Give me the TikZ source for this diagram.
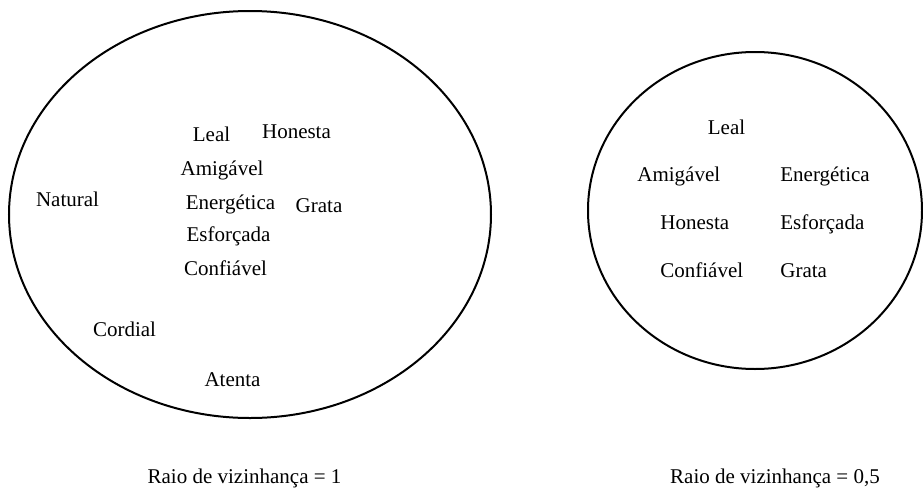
\documentclass[tikz,border=0pt]{standalone}
\usepackage{fontspec}
\setmainfont{Liberation Serif}
\usepackage{tikz}
\usetikzlibrary{positioning}

\begin{document}
\begin{tikzpicture}[
        x=0.5pt, y=-0.5pt, % one unit = one pixel of the reference
        region/.style={draw, line width=1pt},
        word/.style={font=\fontsize{10.5}{12}\selectfont, inner sep=0pt, anchor=base},
        wordl/.style={word, anchor=base west}
      ]
        \useasboundingbox (0,0) rectangle (923,488);

        % Neighbourhood regions
        \draw[region] (250,214.5) ellipse [x radius=120.5pt, y radius=101.75pt];
        \draw[region] (755,210.5) ellipse [x radius=83.5pt, y radius=79.25pt];

        % Radius 1
        \node[word] (leal_a) at (211.5,141.5) {Leal};
        \node[word] (honesta_a) at (296.5,138.5) {Honesta};
        \node[word] (amigavel_a) at (222,175) {Amigável};
        \node[word] (natural_a) at (67.5,206) {Natural};
        \node[word] (energetica_a) at (230.5,209) {Energética};
        \node[word] (grata_a) at (319,212.5) {Grata};
        \node[word] (esforcada_a) at (228.5,241) {Esforçada};
        \node[word] (confiavel_a) at (225.5,275.5) {Confiável};
        \node[word] (cordial_a) at (124.5,336.5) {Cordial};
        \node[word] (atenta_a) at (232.5,386) {Atenta};

        % Radius 0,5
        \node[word] (leal_b) at (726.5,134) {Leal};
        \node[wordl] (amigavel_b) at (637,181.5) {Amigável};
        \node[wordl] (energetica_b) at (780,181.5) {Energética};
        \node[wordl] (honesta_b) at (660,229.5) {Honesta};
        \node[wordl] (esforcada_b) at (780,229.5) {Esforçada};
        \node[wordl] (confiavel_b) at (660,277.5) {Confiável};
        \node[wordl] (grata_b) at (780,277.5) {Grata};

        % Captions
        \node[word] (caption_a) at (244.5,483) {Raio de vizinhança = 1};
        \node[word] (caption_b) at (775,483) {Raio de vizinhança = 0,5};
    \end{tikzpicture}
\end{document}
